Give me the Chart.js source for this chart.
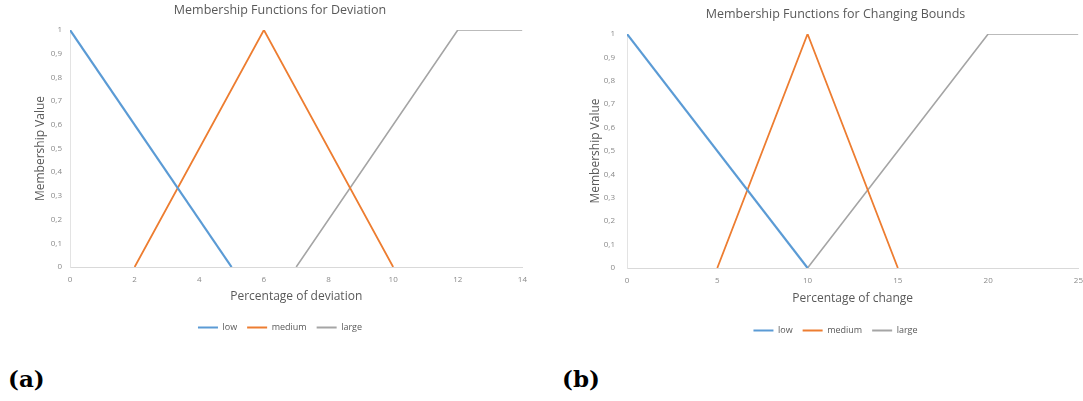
<!DOCTYPE html>
<html>
<head>
<meta charset="utf-8">
<script src="https://cdn.jsdelivr.net/npm/chart.js@4/dist/chart.umd.min.js"></script>
<style>
  html, body { margin: 0; padding: 0; background: #fff; overflow: hidden; }
  body { width: 1083px; height: 401px; position: relative; }
  canvas { position: absolute; }
  #chartA { left: 0; top: 0; }
  #chartB { left: 548px; top: 0; }
  .tag { position: absolute; top: 365px; font-family: "DejaVu Serif", serif; font-weight: bold; font-size: 23px; color: #000; }
</style>
</head>
<body>
<canvas id="chartA" width="535" height="342"></canvas>
<canvas id="chartB" width="543" height="345"></canvas>
<div class="tag" style="left:8px">(a)</div>
<div class="tag" style="left:562px">(b)</div>
<script>
// ---------- data ----------
var seriesNames = ['low', 'medium', 'large'];
var seriesColors = ['#5B9BD5', '#ED7D31', '#A5A5A5'];
var yTicks = [0, 0.1, 0.2, 0.3, 0.4, 0.5, 0.6, 0.7, 0.8, 0.9, 1];
var yTickLabels = ['0', '0,1', '0,2', '0,3', '0,4', '0,5', '0,6', '0,7', '0,8', '0,9', '1'];

// (a) deviation
var devTicks = [0, 2, 4, 6, 8, 10, 12, 14];
var devLowX = [0, 5], devLowY = [1, 0];
var devMedX = [2, 6, 10], devMedY = [0, 1, 0];
var devLargeX = [7, 12, 14], devLargeY = [0, 1, 1];

// (b) changing bounds
var chgTicks = [0, 5, 10, 15, 20, 25];
var chgLowX = [0, 10], chgLowY = [1, 0];
var chgMedX = [5, 10, 15], chgMedY = [0, 1, 0];
var chgLargeX = [10, 20, 25], chgLargeY = [0, 1, 1];

var FONT = '"Open Sans", "Liberation Sans", sans-serif';
var TXT = '#595959';
var widths = [2.2, 1.8, 1.6];

function pts(xs, ys) {
  return xs.map(function (x, i) { return { x: x, y: ys[i] }; });
}

// thin line swatches in the legend, no outline
function legendItems(chart) {
  var items = Chart.defaults.plugins.legend.labels.generateLabels(chart);
  items.forEach(function (it) { it.lineWidth = 0; });
  return items;
}

function makeChart(id, cfg) {
  var datasets = cfg.series.map(function (s, i) {
    return {
      label: seriesNames[i], data: pts(s[0], s[1]),
      borderColor: seriesColors[i], backgroundColor: seriesColors[i],
      borderWidth: widths[i], pointRadius: 0, tension: 0, fill: false
    };
  });
  return new Chart(document.getElementById(id), {
    type: 'line',
    data: { datasets: datasets },
    options: {
      responsive: false, animation: false,
      layout: { padding: { left: cfg.padLeft, right: 8, top: 0, bottom: 0 } },
      plugins: {
        title: {
          display: true, text: cfg.title, color: TXT,
          font: { family: FONT, size: 12.5, weight: 'normal' },
          padding: { top: cfg.titleTop, bottom: cfg.titleBottom }
        },
        legend: {
          position: 'bottom',
          labels: {
            color: TXT, boxWidth: 20, boxHeight: 2, padding: 10,
            font: { family: FONT, size: 9 },
            generateLabels: legendItems
          }
        },
        tooltip: { enabled: false }
      },
      scales: {
        x: {
          type: 'linear', min: cfg.ticks[0], max: cfg.ticks[cfg.ticks.length - 1],
          afterBuildTicks: function (s) { s.ticks = cfg.ticks.map(function (v) { return { value: v }; }); },
          afterFit: function (s) { s.height = cfg.xHeight; },
          grid: { display: false, drawTicks: false },
          border: { display: true, color: '#d9d9d9', width: 1 },
          ticks: { color: '#8a8a8a', padding: 8, maxRotation: 0, font: { family: FONT, size: 8 } },
          title: {
            display: true, text: cfg.xTitle, color: TXT,
            font: { family: FONT, size: 12 }, padding: { top: 0, bottom: cfg.xTitlePad }
          }
        },
        y: {
          min: 0, max: 1,
          afterBuildTicks: function (s) { s.ticks = yTicks.map(function (v) { return { value: v }; }); },
          afterFit: function (s) { s.width = cfg.yWidth; },
          grid: { display: false, drawTicks: false },
          border: { display: true, color: '#e3e3e3', width: 1 },
          ticks: {
            color: '#8a8a8a', padding: cfg.yTickPad, font: { family: FONT, size: 8 },
            callback: function (v, i) { return yTickLabels[i]; }
          },
          title: {
            display: true, text: 'Membership Value', color: TXT,
            font: { family: FONT, size: 12 }, padding: { top: 0, bottom: 0 }
          }
        }
      }
    }
  });
}

makeChart('chartA', {
  title: 'Membership Functions for Deviation',
  xTitle: 'Percentage of deviation',
  ticks: devTicks,
  series: [[devLowX, devLowY], [devMedX, devMedY], [devLargeX, devLargeY]],
  padLeft: 33, yWidth: 37, yTickPad: 8,
  titleTop: 3, titleBottom: 12,
  xHeight: 46, xTitlePad: 9
});

makeChart('chartB', {
  title: 'Membership Functions for Changing Bounds',
  xTitle: 'Percentage of change',
  ticks: chgTicks,
  series: [[chgLowX, chgLowY], [chgMedX, chgMedY], [chgLargeX, chgLargeY]],
  padLeft: 40, yWidth: 39, yTickPad: 12,
  titleTop: 7, titleBottom: 12,
  xHeight: 48, xTitlePad: 10
});
</script>
</body>
</html>
